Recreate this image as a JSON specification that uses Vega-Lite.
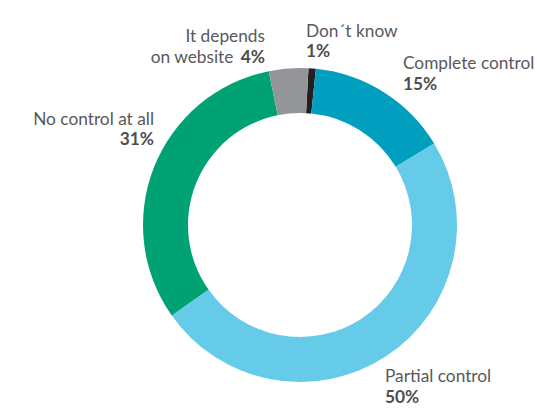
{
  "$schema": "https://vega.github.io/schema/vega-lite/v6.json",
  "width": 474,
  "height": 366,
  "autosize": {"type": "none"},
  "padding": {"left": 63, "top": 42, "right": 0, "bottom": 0},
  "background": "white",
  "view": {"stroke": null},
  "data": {
    "values": [
      {"order": 1, "category": "Don´t know", "value": 0.75, "pct": "1%", "line2": ""},
      {"order": 2, "category": "Complete control", "value": 14.7, "pct": "15%", "line2": ""},
      {"order": 3, "category": "Partial control", "value": 48.9, "pct": "50%", "line2": ""},
      {"order": 4, "category": "No control at all", "value": 31.6, "pct": "31%", "line2": ""},
      {"order": 5, "category": "It depends", "value": 4.05, "pct": "4%", "line2": "on website"}
    ]
  },
  "encoding": {
    "theta": {"field": "value", "type": "quantitative", "stack": true, "scale": {"range": [0.0541, 6.3373]}},
    "order": {"field": "order", "type": "quantitative"}
  },
  "layer": [
    {
      "mark": {"type": "arc", "outerRadius": 157, "innerRadius": 112},
      "encoding": {
        "color": {
          "field": "category",
          "type": "nominal",
          "scale": {
            "domain": ["Don´t know", "Complete control", "Partial control", "No control at all", "It depends"],
            "range": ["#231f20", "#009fc0", "#66cbe8", "#00a274", "#939598"]
          },
          "legend": null
        }
      }
    },
    {
      "mark": {
        "type": "text",
        "radius": 180,
        "font": "Lato",
        "fontSize": 17.3,
        "color": "#58595b",
        "baseline": "alphabetic",
        "align": {"expr": "datum.order >= 4 ? 'right' : 'left'"},
        "dx": {"expr": "[-8, 6.9, -13.7, 21.3, -21.85][datum.order - 1]"},
        "dy": {"expr": "[-8.5, -3.8, 6.5, -33.6, -3.5][datum.order - 1]"}
      },
      "encoding": {
        "text": {"field": "category"},
        "detail": {"field": "category"}
      }
    },
    {
      "mark": {
        "type": "text",
        "radius": 180,
        "font": "Lato",
        "fontSize": 17.3,
        "fontWeight": "bold",
        "color": "#4d4d4f",
        "baseline": "alphabetic",
        "align": {"expr": "datum.order >= 4 ? 'right' : 'left'"},
        "dx": {"expr": "[-8, 6.9, -13.7, 21.3, -21.85][datum.order - 1]"},
        "dy": {"expr": "[11.5, 17, 27, -13.5, 18][datum.order - 1]"}
      },
      "encoding": {
        "text": {"field": "pct"},
        "detail": {"field": "category"}
      }
    },
    {
      "mark": {
        "type": "text",
        "radius": 180,
        "font": "Lato",
        "fontSize": 17.3,
        "color": "#58595b",
        "baseline": "alphabetic",
        "align": "right",
        "dx": -53.5,
        "dy": 18
      },
      "encoding": {
        "text": {"field": "line2"},
        "detail": {"field": "category"}
      }
    }
  ]
}
